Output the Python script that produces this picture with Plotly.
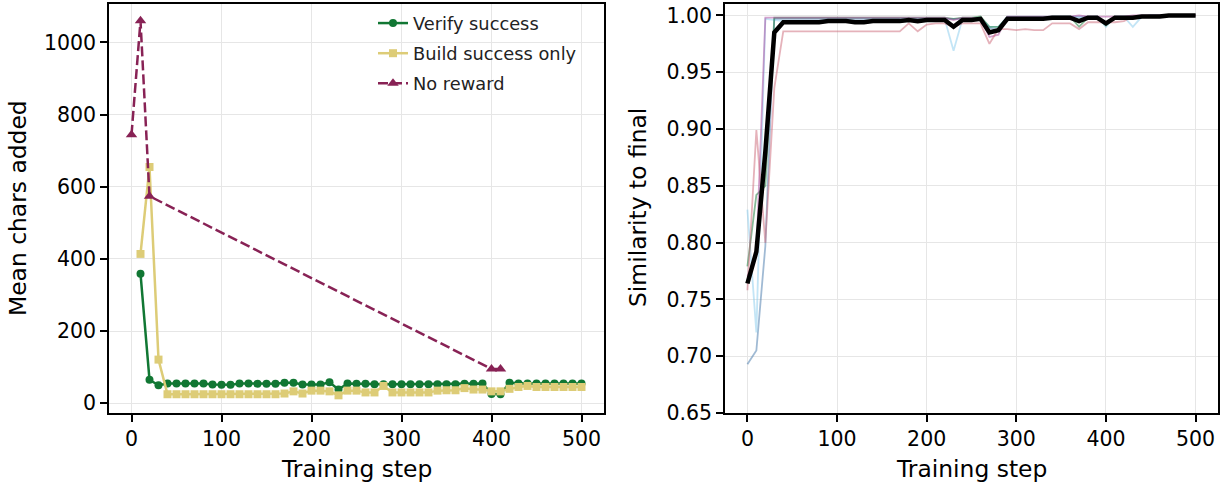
import plotly.graph_objects as go

# ---------------- Left panel data ----------------
steps_left = [10, 20, 30, 40, 50, 60, 70, 80, 90, 100,
              110, 120, 130, 140, 150, 160, 170, 180, 190, 200,
              210, 220, 230, 240, 250, 260, 270, 280, 290, 300,
              310, 320, 330, 340, 350, 360, 370, 380, 390, 400,
              410, 420, 430, 440, 450, 460, 470, 480, 490, 500]
verify_success = [359, 65, 50, 55, 55, 55, 55, 55, 52, 51,
                  51, 55, 55, 54, 54, 54, 57, 57, 52, 52,
                  52, 58, 38, 55, 54, 54, 53, 53, 53, 53,
                  53, 53, 53, 53, 53, 53, 54, 54, 55, 26,
                  25, 57, 55, 55, 55, 55, 55, 55, 55, 55]
build_success = [414, 655, 121, 25, 25, 25, 25, 25, 25, 25,
                 25, 25, 25, 25, 25, 25, 27, 33, 27, 35,
                 35, 33, 22, 35, 35, 30, 30, 48, 30, 30,
                 30, 30, 30, 35, 36, 36, 42, 38, 38, 33,
                 33, 40, 45, 48, 45, 45, 45, 45, 45, 45]
steps_noreward = [0, 10, 20, 400, 410]
no_reward = [744, 1060, 574, 95, 95]

# ---------------- Right panel data ----------------
steps_right = list(range(0, 501, 10))
run_purple = [0.770, 0.790, 0.998, 0.998, 0.998, 0.998, 0.998, 0.998, 0.998, 0.998,
              0.998, 0.998, 0.998, 0.998, 0.998, 0.998, 0.998, 0.998, 0.998, 0.998,
              0.998, 0.998, 0.998, 0.996, 0.998, 0.998, 0.997, 0.981, 0.983, 0.999,
              0.999, 0.999, 0.999, 0.999, 0.999, 0.999, 0.999, 1.000, 0.999, 0.999,
              0.999, 0.999, 0.999, 1.000, 1.000, 1.000, 1.000, 1.000, 1.000, 1.000,
              1.000]
run_green = [0.779, 0.842, 0.850, 0.998, 0.998, 0.998, 0.998, 0.998, 0.998, 0.998,
             0.998, 0.998, 0.998, 0.998, 0.998, 0.998, 0.998, 0.998, 0.998, 0.998,
             0.998, 0.998, 0.998, 0.997, 0.998, 0.998, 0.999, 0.990, 0.990, 0.998,
             0.998, 0.998, 0.998, 0.998, 0.999, 0.999, 0.999, 0.990, 0.998, 0.998,
             0.991, 0.998, 0.998, 0.999, 0.999, 0.999, 0.999, 1.000, 1.000, 1.000,
             1.000]
run_cyan = [0.829, 0.721, 0.997, 0.996, 0.995, 0.995, 0.995, 0.995, 0.995, 0.996,
            0.996, 0.996, 0.995, 0.995, 0.995, 0.995, 0.995, 0.996, 0.997, 0.996,
            0.997, 0.997, 0.997, 0.969, 0.997, 0.997, 0.998, 0.990, 0.990, 0.999,
            0.999, 0.999, 0.999, 0.999, 0.999, 0.999, 0.999, 0.998, 0.998, 0.999,
            0.990, 0.999, 0.999, 0.990, 0.999, 1.000, 1.000, 1.000, 1.000, 1.000,
            1.000]
run_blue = [0.693, 0.705, 0.797, 0.997, 0.997, 0.997, 0.997, 0.997, 0.997, 0.997,
            0.997, 0.997, 0.997, 0.997, 0.997, 0.997, 0.997, 0.997, 0.997, 0.997,
            0.997, 0.997, 0.997, 0.997, 0.997, 0.997, 0.998, 0.989, 0.987, 0.998,
            0.998, 0.998, 0.998, 0.998, 0.999, 0.999, 0.999, 0.999, 0.999, 0.999,
            0.993, 0.999, 0.999, 0.999, 0.999, 1.000, 1.000, 1.000, 1.000, 1.000,
            1.000]
run_pink = [0.758, 0.899, 0.800, 0.936, 0.986, 0.986, 0.986, 0.986, 0.986, 0.986,
            0.986, 0.986, 0.986, 0.986, 0.986, 0.986, 0.986, 0.986, 0.993, 0.986,
            0.992, 0.993, 0.993, 0.990, 0.993, 0.993, 0.993, 0.975, 0.988, 0.988,
            0.987, 0.988, 0.987, 0.987, 0.993, 0.993, 0.993, 0.988, 0.994, 0.994,
            0.994, 0.994, 0.995, 0.999, 0.999, 0.999, 1.000, 1.000, 1.000, 1.000,
            1.000]
mean_similarity = [0.764, 0.792, 0.880, 0.985, 0.994, 0.994, 0.994, 0.994, 0.994, 0.995,
                   0.995, 0.995, 0.994, 0.994, 0.995, 0.995, 0.995, 0.995, 0.996, 0.995,
                   0.996, 0.996, 0.996, 0.990, 0.996, 0.996, 0.997, 0.985, 0.987, 0.997,
                   0.997, 0.997, 0.997, 0.997, 0.998, 0.998, 0.998, 0.995, 0.998, 0.998,
                   0.993, 0.998, 0.998, 0.998, 0.999, 0.999, 0.999, 1.000, 1.000, 1.000,
                   1.000]

left_ticks = [0, 100, 200, 300, 400, 500]
left_yticks = [0, 200, 400, 600, 800, 1000]
right_yticks = [0.65, 0.70, 0.75, 0.80, 0.85, 0.90, 0.95, 1.00]
right_yticklabels = ["0.65", "0.70", "0.75", "0.80", "0.85", "0.90", "0.95", "1.00"]

FONT = "DejaVu Sans"
W, H = 1225, 486

fig = go.Figure()

# Left panel
fig.add_trace(go.Scatter(x=steps_left, y=verify_success, mode="lines+markers",
                         name="Verify success", legendgroup="a",
                         line=dict(color="#117733", width=2.5),
                         marker=dict(symbol="circle", size=8, color="#117733"),
                         xaxis="x", yaxis="y"))
fig.add_trace(go.Scatter(x=steps_left, y=build_success, mode="lines+markers",
                         name="Build success only", legendgroup="b",
                         line=dict(color="#DDCC77", width=2.5),
                         marker=dict(symbol="square", size=8, color="#DDCC77"),
                         xaxis="x", yaxis="y"))
fig.add_trace(go.Scatter(x=steps_noreward, y=no_reward, mode="lines+markers",
                         name="No reward", legendgroup="c",
                         line=dict(color="#882255", width=2.5, dash="10px,4px"),
                         marker=dict(symbol="triangle-up", size=10, color="#882255"),
                         xaxis="x", yaxis="y"))

# Right panel
runs = [(run_blue, "#4477AA"), (run_cyan, "#88CCEE"), (run_green, "#117733"),
        (run_purple, "#AA4499"), (run_pink, "#CC6677")]
for vals, col in runs:
    fig.add_trace(go.Scatter(x=steps_right, y=vals, mode="lines",
                             line=dict(color=col, width=1.8), opacity=0.5,
                             showlegend=False, hoverinfo="skip",
                             xaxis="x2", yaxis="y2"))
fig.add_trace(go.Scatter(x=steps_right, y=mean_similarity, mode="lines",
                         line=dict(color="black", width=4.5),
                         showlegend=False, xaxis="x2", yaxis="y2"))

ax_common = dict(showline=True, mirror=True, linecolor="black", linewidth=1.6,
                 ticks="outside", ticklen=7, tickwidth=1.6, tickcolor="black",
                 showgrid=True, gridcolor="#e6e6e6", gridwidth=1, zeroline=False,
                 automargin=False,
                 tickfont=dict(family=FONT, size=20.5, color="black"))

ydom = [1 - 413 / H, 1 - 3.5 / H]
LBL = 23.4
fig.update_layout(
    width=W, height=H,
    margin=dict(l=0, r=0, t=0, b=0, autoexpand=False),
    paper_bgcolor="white", plot_bgcolor="white",
    font=dict(family=FONT, color="black"),
    xaxis=dict(domain=[109 / W, 604 / W], range=[-25, 525], tickvals=left_ticks,
               anchor="y", **ax_common),
    yaxis=dict(domain=ydom, range=[-27, 1108], tickvals=left_yticks,
               anchor="x", **ax_common),
    xaxis2=dict(domain=[725 / W, 1218 / W], range=[-25, 525], tickvals=left_ticks,
                anchor="y2", **ax_common),
    yaxis2=dict(domain=ydom, range=[0.65, 1.0105], tickvals=right_yticks,
                ticktext=right_yticklabels, anchor="x2", **ax_common),
    legend=dict(x=373 / W, y=1 - 5 / H, xanchor="left", yanchor="top",
                bgcolor="rgba(255,255,255,0)", borderwidth=0,
                font=dict(family=FONT, size=17.8, color="#222"),
                traceorder="grouped", tracegroupgap=4),
    showlegend=True,
    annotations=[
        dict(text="Training step", x=356.5 / W, y=1 - 469 / H, xref="paper", yref="paper",
             showarrow=False, font=dict(family=FONT, size=LBL, color="black"),
             xanchor="center", yanchor="middle"),
        dict(text="Training step", x=971.5 / W, y=1 - 469 / H, xref="paper", yref="paper",
             showarrow=False, font=dict(family=FONT, size=LBL, color="black"),
             xanchor="center", yanchor="middle"),
        dict(text="Mean chars added", x=18 / W, y=1 - 208 / H, xref="paper", yref="paper",
             showarrow=False, textangle=-90, font=dict(family=FONT, size=LBL, color="black"),
             xanchor="center", yanchor="middle"),
        dict(text="Similarity to final", x=638 / W, y=1 - 208 / H, xref="paper", yref="paper",
             showarrow=False, textangle=-90, font=dict(family=FONT, size=LBL, color="black"),
             xanchor="center", yanchor="middle"),
    ],
)

fig.write_html("out.html", config={"displayModeBar": False},
               post_script="document.body.style.margin='0';document.body.style.padding='0';")
